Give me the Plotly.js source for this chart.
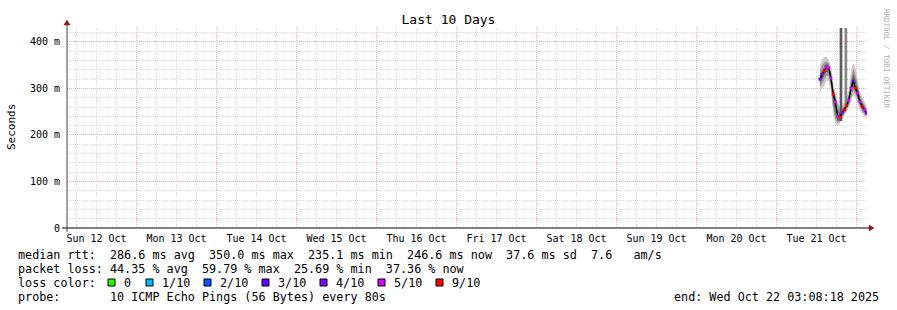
<!DOCTYPE html>
<html>
<head>
<meta charset="utf-8">
<script src="https://cdn.plot.ly/plotly-3.0.1.min.js"></script>
<style>
html,body{margin:0;padding:0;background:#fff;}
#chart{width:897px;height:310px;}
</style>
</head>
<body>
<div id="chart"></div>
<script>
// ---------- DATA ----------
const dayLabels = ['Sun 12 Oct','Mon 13 Oct','Tue 14 Oct','Wed 15 Oct','Thu 16 Oct','Fri 17 Oct','Sat 18 Oct','Sun 19 Oct','Mon 20 Oct','Tue 21 Oct'];
const dayNoons = ['2025-10-12 12:00','2025-10-13 12:00','2025-10-14 12:00','2025-10-15 12:00','2025-10-16 12:00','2025-10-17 12:00','2025-10-18 12:00','2025-10-19 12:00','2025-10-20 12:00','2025-10-21 12:00'];
const dayMidnights = ['2025-10-13','2025-10-14','2025-10-15','2025-10-16','2025-10-17','2025-10-18','2025-10-19','2025-10-20','2025-10-21','2025-10-22'];
const yTickVals = [0,100,200,300,400];
const yTickText = ['0','100 m','200 m','300 m','400 m'];

const times = ['2025-10-21 13:00','2025-10-21 13:40','2025-10-21 14:20','2025-10-21 15:00','2025-10-21 15:40','2025-10-21 16:20','2025-10-21 17:00','2025-10-21 17:40','2025-10-21 18:20','2025-10-21 19:00','2025-10-21 19:40','2025-10-21 20:20','2025-10-21 21:00','2025-10-21 21:40','2025-10-21 22:20','2025-10-21 23:00','2025-10-21 23:40','2025-10-22 00:20','2025-10-22 01:00','2025-10-22 01:40','2025-10-22 02:20','2025-10-22 03:00'];
const medianRtt = [320,331,338,346,344,322,288,271,240,238,248,254,263,274,300,316,301,290,271,261,254,247];
const lossLevel = [4,4,9,5,5,5,9,5,5,9,4,9,9,5,5,3,9,5,5,9,5,4];
const smokeLightHi = [350,362,368,368,362,348,312,292,272,262,262,272,282,296,334,356,344,320,294,282,272,264];
const smokeLightLo = [292,298,306,316,316,292,244,224,220,224,234,240,248,258,272,286,280,266,254,246,240,234];
const smokeMidHi   = [338,350,356,358,354,338,302,284,264,254,256,264,274,286,320,344,330,308,286,274,265,257];
const smokeMidLo   = [302,310,320,328,326,302,258,234,226,229,239,245,253,264,283,296,288,274,260,251,245,239];
const smokeDarkHi  = [328,340,348,354,350,332,296,280,252,248,253,260,269,281,310,332,318,300,280,270,261,253];
const smokeDarkLo  = [310,320,328,336,334,310,268,246,230,231,242,248,257,267,290,303,293,280,264,255,249,242];
const spikeTimes = ['2025-10-21 19:20','2025-10-21 20:48'];
const spikeLow = [230,266];
const spikeHigh = [600,600];
const spikeColors = ['#5a5a5a','#858585'];

const lossLegendLevels = [0,1,2,3,4,5,9];
const lossLegendLabels = ['0','1/10','2/10','3/10','4/10','5/10','9/10'];
const lossLegendColors = ['#26ff00','#00b8ff','#0059ff','#5e00ff','#7e00ff','#dd00ff','#ff0000'];

const medianStatVals = [286.6,350.0,235.1,246.6];
const medianStatNames = ['avg','max','min','now'];
const medianSd = 37.6;
const medianAmps = 7.6;
const lossStatVals = [44.35,59.79,25.69,37.36];
const probeText = '10 ICMP Echo Pings (56 Bytes) every 80s';
const endText = 'end: Wed Oct 22 03:08:18 2025';

// ---------- LAYOUT HELPERS ----------
const L=67, R=867, T=28, B=228;
const px = x => (x-L)/(R-L);
const py = y => (B-y)/(B-T);
const nb = s => s.replace(/ /g,'\u00a0');
const MONO = 'DejaVu Sans Mono';

const traces = [];
function band(lo, hi, color){
  traces.push({x:times, y:lo, type:'scatter', mode:'lines', line:{width:0,color:color}, hoverinfo:'skip', showlegend:false});
  traces.push({x:times, y:hi, type:'scatter', mode:'lines', line:{width:0,color:color}, fill:'tonexty', fillcolor:color, hoverinfo:'skip', showlegend:false});
}
band(smokeLightLo, smokeLightHi, '#cdcdcd');
band(smokeMidLo, smokeMidHi, '#9c9c9c');
band(smokeDarkLo, smokeDarkHi, '#686868');
spikeTimes.forEach((t,i)=>{
  traces.push({x:[t,t], y:[spikeLow[i], spikeHigh[i]], type:'scatter', mode:'lines',
    line:{color:spikeColors[i], width:2.7}, cliponaxis:true, hoverinfo:'skip', showlegend:false});
});
traces.push({x:times, y:medianRtt, type:'scatter', mode:'lines', line:{color:'#000', width:1.3}, showlegend:false});
traces.push({
  x:times, y:medianRtt, type:'scatter', mode:'markers',
  marker:{symbol:'square', size:2.8, color:lossLevel.map(l=>lossLegendColors[lossLegendLevels.indexOf(l)]), line:{width:0}},
  showlegend:false
});
traces.push({x:[], y:[], xaxis:'x2', type:'scatter', showlegend:false});

const xRange = ['2025-10-12 03:08:18','2025-10-22 03:08:18'];

const annotations = [];
function txt(x, y, s, opts){
  annotations.push(Object.assign({xref:'paper', yref:'paper', x:px(x), y:py(y), text:nb(s), showarrow:false,
    xanchor:'left', yanchor:'middle', font:{family:MONO, size:11.75, color:'#000'}}, opts||{}));
}
let row1 = 'median rtt:  ' + medianStatVals.map((v,i)=>v.toFixed(1)+' ms '+medianStatNames[i]).join('  ') + '  ' + medianSd.toFixed(1) + ' ms sd  ' + medianAmps.toFixed(1) + '   am/s';
let row2 = 'packet loss: ' + lossStatVals.map((v,i)=>v.toFixed(2)+' % '+medianStatNames[i]).join('  ');
txt(16, 255, row1);
txt(16, 268.5, row2);
txt(16, 282.5, 'loss color:');
txt(16, 296.5, 'probe:       ' + probeText);
txt(881, 296.5, endText, {xanchor:'right'});

const boxX = [108,146,204,262,320,378,436];
const shapes = [];
lossLegendLabels.forEach((lab,i)=>{
  shapes.push({type:'rect', xref:'paper', yref:'paper', x0:px(boxX[i]), x1:px(boxX[i]+7), y0:py(286), y1:py(279),
    fillcolor:lossLegendColors[i], line:{color:'#000', width:1}});
  txt(boxX[i]+14, 282.5, lab);
});

// axis extensions and arrows
shapes.push({type:'line', xref:'paper', yref:'paper', x0:px(62), x1:px(869), y0:py(228), y1:py(228), line:{color:'#000', width:1}});
shapes.push({type:'line', xref:'paper', yref:'paper', x0:px(67), x1:px(67), y0:py(232), y1:py(24), line:{color:'#444', width:1}});
shapes.push({type:'path', xref:'paper', yref:'paper',
  path:`M ${px(869)} ${py(225)} L ${px(874)} ${py(228)} L ${px(869)} ${py(231)} Z`, fillcolor:'#8b1a1a', line:{color:'#8b1a1a', width:0.5}});
shapes.push({type:'path', xref:'paper', yref:'paper',
  path:`M ${px(64)} ${py(25)} L ${px(67)} ${py(20)} L ${px(70)} ${py(25)} Z`, fillcolor:'#8b1a1a', line:{color:'#8b1a1a', width:0.5}});

// y title & watermark
annotations.push({xref:'paper', yref:'paper', x:px(11), y:py(127), text:'Seconds', showarrow:false, textangle:-90,
  xanchor:'center', yanchor:'middle', font:{family:MONO, size:11, color:'#000'}});
annotations.push({xref:'paper', yref:'paper', x:px(887), y:py(59), text:nb('RRDTOOL / TOBI OETIKER'), showarrow:false, textangle:90,
  xanchor:'center', yanchor:'middle', font:{family:MONO, size:7.5, color:'#b0b0b0'}});

const layout = {
  width:897, height:310,
  margin:{l:L, r:897-R, t:T, b:310-B, pad:0},
  paper_bgcolor:'#fff', plot_bgcolor:'#fff',
  showlegend:false,
  title:{text:'Last 10 Days', x:0.5, xref:'container', xanchor:'center', y:1-19/310, yref:'container', yanchor:'middle',
    font:{family:MONO, size:13, color:'#000'}},
  xaxis:{
    type:'date', range:xRange, tickvals:dayMidnights, showticklabels:false, ticks:'',
    showgrid:true, gridcolor:'#eab4b4', griddash:'1px,1px', gridwidth:1,
    minor:{tick0:'2025-10-12', dtick:6*3600*1000, showgrid:true, gridcolor:'#d9d9d9', griddash:'1px,1px', gridwidth:1, ticks:''},
    showline:false, zeroline:false, fixedrange:true
  },
  xaxis2:{
    type:'date', range:xRange, overlaying:'x', side:'bottom', anchor:'y', tickvals:dayNoons, ticktext:dayLabels,
    showgrid:false, showline:false, zeroline:false, ticks:'', ticklabelstandoff:3,
    tickfont:{family:MONO, size:10, color:'#000'}
  },
  yaxis:{
    range:[0,430], tickvals:yTickVals, ticktext:yTickText, ticks:'', ticklabelstandoff:6,
    tickfont:{family:MONO, size:10, color:'#000'},
    showgrid:true, gridcolor:'#eab4b4', griddash:'1px,1px', gridwidth:1,
    minor:{dtick:20, showgrid:true, gridcolor:'#d9d9d9', griddash:'1px,1px', gridwidth:1, ticks:''},
    zeroline:false, showline:false, fixedrange:true
  },
  shapes:shapes,
  annotations:annotations
};

Plotly.newPlot('chart', traces, layout, {displayModeBar:false, staticPlot:true});
</script>
</body>
</html>
